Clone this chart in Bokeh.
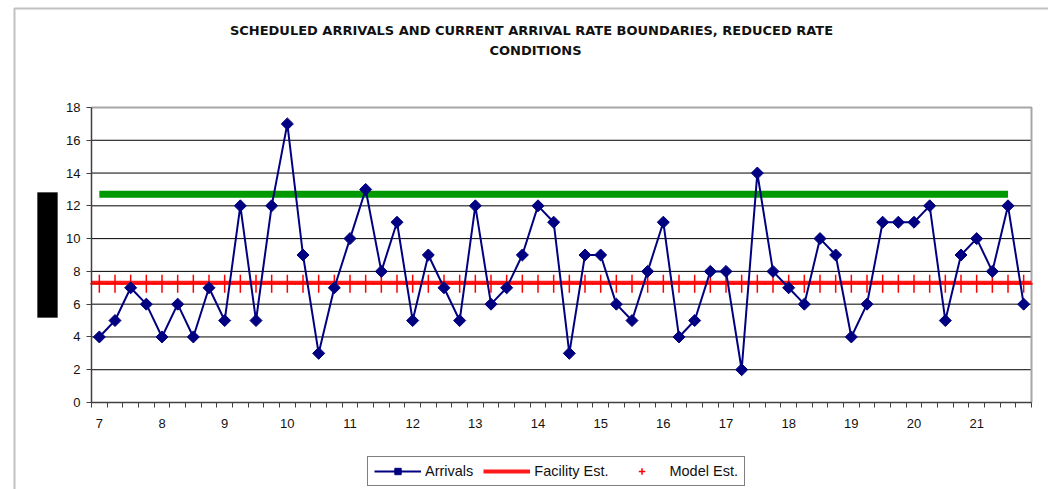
from bokeh.plotting import figure
from bokeh.models import (FixedTicker, Legend, LegendItem, Label, BoxAnnotation, Range1d,
                          ColumnDataSource)
from bokeh.embed import file_html
from bokeh.resources import INLINE

# ---- data -------------------------------------------------------------
times = [f"{h}:{m:02d}" for h in range(7, 22) for m in (0, 15, 30, 45)]
arrivals = [4, 5, 7, 6, 4, 6, 4, 7, 5, 12, 5, 12, 17, 9, 3, 7, 10, 13, 8, 11,
            5, 9, 7, 5, 12, 6, 7, 9, 12, 11, 3, 9, 9, 6, 5, 8, 11, 4, 5, 8,
            8, 2, 14, 8, 7, 6, 10, 9, 4, 6, 11, 11, 11, 12, 5, 9, 10, 8, 12, 6]
facility_est = 7.3
model_est = [7.25] * len(times)
upper_boundary = 12.7
hour_labels = ["7", "8", "9", "10", "11", "12", "13", "14", "15", "16",
               "17", "18", "19", "20", "21"]
y_ticks = [0, 2, 4, 6, 8, 10, 12, 14, 16, 18]
title_lines = ["SCHEDULED ARRIVALS AND CURRENT ARRIVAL RATE BOUNDARIES, REDUCED RATE",
               "CONDITIONS"]

n = len(times)
xs = list(range(n))
Y_MAX = y_ticks[-1]

# ---- layout: the frame covers the whole canvas; axes sit at fixed spots --
W, H = 1048, 489
PL, PR, PT, PB = 91, 1031, 107, 402          # plot-area box in pixels
XPX = (PR - PL) / n                          # pixels per category
YPX = (PB - PT) / Y_MAX                      # pixels per unit
x0 = -0.5 - PL / XPX
y0 = -(H - PB) / YPX


def dx(px):
    return x0 + px / XPX


def dy(py):
    return y0 + (H - py) / YPX


p = figure(width=W, height=H, output_backend="svg", toolbar_location=None,
           x_range=Range1d(x0, x0 + W / XPX), y_range=Range1d(y0, y0 + H / YPX),
           min_border=0, min_border_left=0, min_border_right=0,
           min_border_top=0, min_border_bottom=0)
p.background_fill_color = "white"
p.border_fill_color = "white"
p.outline_line_color = None
p.xgrid.visible = False
p.ygrid.visible = False

FONT = "Liberation Sans"
AX = "#404040"

# x axis
hour_idx = [i for i, t in enumerate(times) if t.endswith(":00")]
xa = p.xaxis[0]
xa.fixed_location = 0
xa.bounds = (-0.5, n - 0.5)
xa.ticker = FixedTicker(ticks=hour_idx, minor_ticks=[i - 0.5 for i in range(n + 1)])
xa.major_label_overrides = {i: lab for i, lab in zip(hour_idx, hour_labels)}
xa.major_tick_out = 0
xa.major_tick_in = 0
xa.minor_tick_out = 5
xa.minor_tick_in = 0
xa.minor_tick_line_color = AX
xa.major_label_standoff = 11
xa.axis_line_color = AX
xa.axis_line_width = 1.5
xa.major_label_text_font = FONT
xa.major_label_text_font_size = "13px"
xa.major_label_text_color = "#111111"

# y axis
ya = p.yaxis[0]
ya.fixed_location = -0.5
ya.bounds = (0, Y_MAX)
ya.ticker = FixedTicker(ticks=y_ticks)
ya.minor_tick_line_color = None
ya.major_tick_out = 5
ya.major_tick_in = 0
ya.major_tick_line_color = AX
ya.major_label_standoff = 6
ya.axis_line_color = AX
ya.axis_line_width = 1.5
ya.major_label_text_font = FONT
ya.major_label_text_font_size = "13px"
ya.major_label_text_color = "#111111"

# horizontal gridlines and plot-area outline (top and right, grey)
inner = y_ticks[1:-1]
p.segment(x0=[-0.5] * len(inner), x1=[n - 0.5] * len(inner), y0=inner, y1=inner,
          line_color="black", line_width=1)
p.line([-0.5, n - 0.5, n - 0.5], [Y_MAX, Y_MAX, 0], line_color="#a6a6a6", line_width=2)

# series
src = ColumnDataSource(data=dict(x=xs, arrivals=arrivals, model=model_est))
p.line([0, n - 2], [upper_boundary, upper_boundary], line_color="#009900", line_width=7)
fac = p.line([-0.5, n - 0.5], [facility_est, facility_est], line_color="#ff0000",
             line_width=4, line_alpha=0.9)
mod = p.scatter("x", "model", source=src, marker="cross", size=18, line_color="#ff0000",
                line_width=1.5)
arr_line = p.line("x", "arrivals", source=src, line_color="#000080", line_width=2)
arr_pts = p.scatter("x", "arrivals", source=src, marker="square", angle=0.785398,
                    size=8.5, fill_color="#000080", line_color="#000080")

legend = Legend(items=[
    LegendItem(label="Arrivals", renderers=[arr_line, arr_pts]),
    LegendItem(label="Facility Est.", renderers=[fac]),
    LegendItem(label="Model Est.", renderers=[mod]),
], orientation="horizontal", location=(367, H - 486))
legend.border_line_color = "black"
legend.border_line_width = 1
legend.background_fill_color = "white"
legend.background_fill_alpha = 1
legend.label_text_font = FONT
legend.label_text_font_size = "14.5px"
legend.label_text_color = "#111111"
legend.glyph_width = 47
legend.glyph_height = 16
legend.label_height = 16
legend.label_standoff = 4
legend.spacing = 10
legend.padding = 6
legend.margin = 0
p.add_layout(legend, "center")

# title (two centred lines)
for txt, cx, cy in zip(title_lines, [531, 535], [30, 50]):
    p.add_layout(Label(x=dx(cx), y=dy(cy), text=txt, text_align="center",
                       text_baseline="middle", text_font="DejaVu Sans",
                       text_font_style="bold", text_font_size="13px",
                       text_color="#111111"))

# blacked-out axis title and the outer chart border
p.add_layout(BoxAnnotation(left=dx(37), right=dx(57), top=dy(192), bottom=dy(317),
                           fill_color="black", fill_alpha=1, line_color="black",
                           line_width=1))
p.add_layout(BoxAnnotation(left=dx(14), right=dx(1070), top=dy(8), bottom=dy(520),
                           fill_alpha=0, line_color="#333333", line_width=2))

open("out.html", "w").write(file_html(p, INLINE))
